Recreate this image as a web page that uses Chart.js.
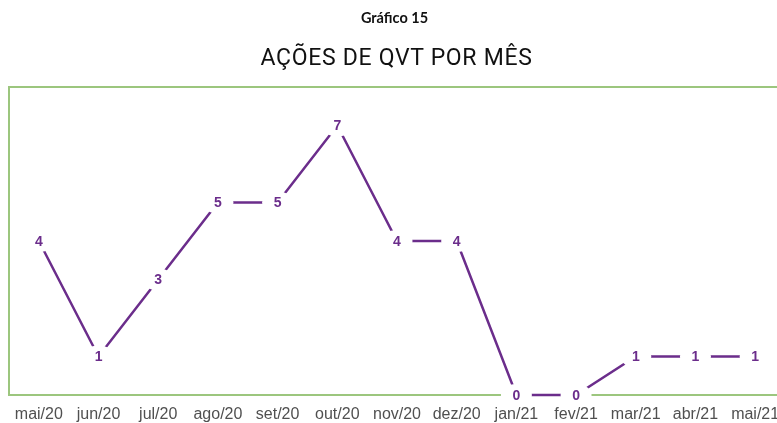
<!DOCTYPE html>
<html>
<head>
<meta charset="utf-8">
<script src="https://cdn.jsdelivr.net/npm/chart.js@4.4.0/dist/chart.umd.min.js"></script>
<style>
    body { margin: 0; background: #fff; overflow: hidden; }
    #wrap { position: relative; width: 800px; height: 423px; }
    #sup { position: absolute; top: 9px; left: 6px; width: 777px; text-align: center;
           font: bold 14.5px Lato, "Open Sans", sans-serif; color: #111; }
    #ttl { position: absolute; top: 44px; left: 8px; width: 777px; text-align: center;
           font: 23px Roboto, "Liberation Sans", sans-serif; color: #111; letter-spacing: 0.7px; }
</style>
</head>
<body>
<div id="wrap">
    <canvas id="myChart" width="800" height="423"></canvas>
    <div id="sup">Gráfico 15</div>
    <div id="ttl">AÇÕES DE QVT POR MÊS</div>
</div>
<script>
// dados do grafico
var months = ['mai/20', 'jun/20', 'jul/20', 'ago/20', 'set/20', 'out/20', 'nov/20',
              'dez/20', 'jan/21', 'fev/21', 'mar/21', 'abr/21', 'mai/21'];
var actions = [4, 1, 3, 5, 5, 7, 4, 4, 0, 0, 1, 1, 1];

var purple = '#6b2d8b';
var green = '#9cc67e';

// green frame round the plot area (right side falls outside the picture)
var framePlugin = {
    id: 'frame',
    beforeDatasetsDraw: function(chart){
        var a = chart.chartArea;
        var ctx = chart.ctx;
        ctx.save();
        ctx.strokeStyle = green;
        ctx.lineWidth = 2;
        ctx.strokeRect(a.left, a.top, a.right - a.left, a.bottom - a.top);
        ctx.restore();
    }
};

// value labels with a white patch that cuts the line
var valuePlugin = {
    id: 'values',
    afterDatasetsDraw: function(chart){
        var ctx = chart.ctx;
        var meta = chart.getDatasetMeta(0);
        ctx.save();
        ctx.font = 'bold 14px "Liberation Sans", Arial, sans-serif';
        ctx.textAlign = 'center';
        ctx.textBaseline = 'middle';
        meta.data.forEach(function(pt, i){
            ctx.fillStyle = '#fff';
            ctx.beginPath();
            ctx.ellipse(pt.x, pt.y, 15.5, 11, 0, 0, Math.PI * 2);
            ctx.fill();
            ctx.fillStyle = purple;
            ctx.fillText(actions[i], pt.x, pt.y + 1);
        });
        ctx.restore();
    }
};

var ctx = document.getElementById('myChart').getContext('2d');

var myChart = new Chart(ctx, {
    type: 'line',
    data: {
        labels: months,
        datasets: [{
            data: actions,
            borderColor: purple,
            borderWidth: 2.5,
            pointRadius: 0,
            tension: 0,
            clip: false
        }]
    },
    options: {
        responsive: false,
        animation: false,
        layout: { padding: { top: 87, left: 9, right: 15, bottom: 0 } },
        plugins: { legend: { display: false }, tooltip: { enabled: false } },
        scales: {
            x: {
                offset: true,
                grid: { display: false, drawTicks: false },
                border: { display: false },
                ticks: { color: '#505050', padding: 10, maxRotation: 0, autoSkip: false,
                          font: { size: 16, family: '"Liberation Sans", Arial, sans-serif' } },
                afterFit: function(scale){ scale.height = 28; }
            },
            y: {
                display: false,
                min: 0,
                max: 8
            }
        }
    },
    plugins: [framePlugin, valuePlugin]
});
</script>
</body>
</html>
